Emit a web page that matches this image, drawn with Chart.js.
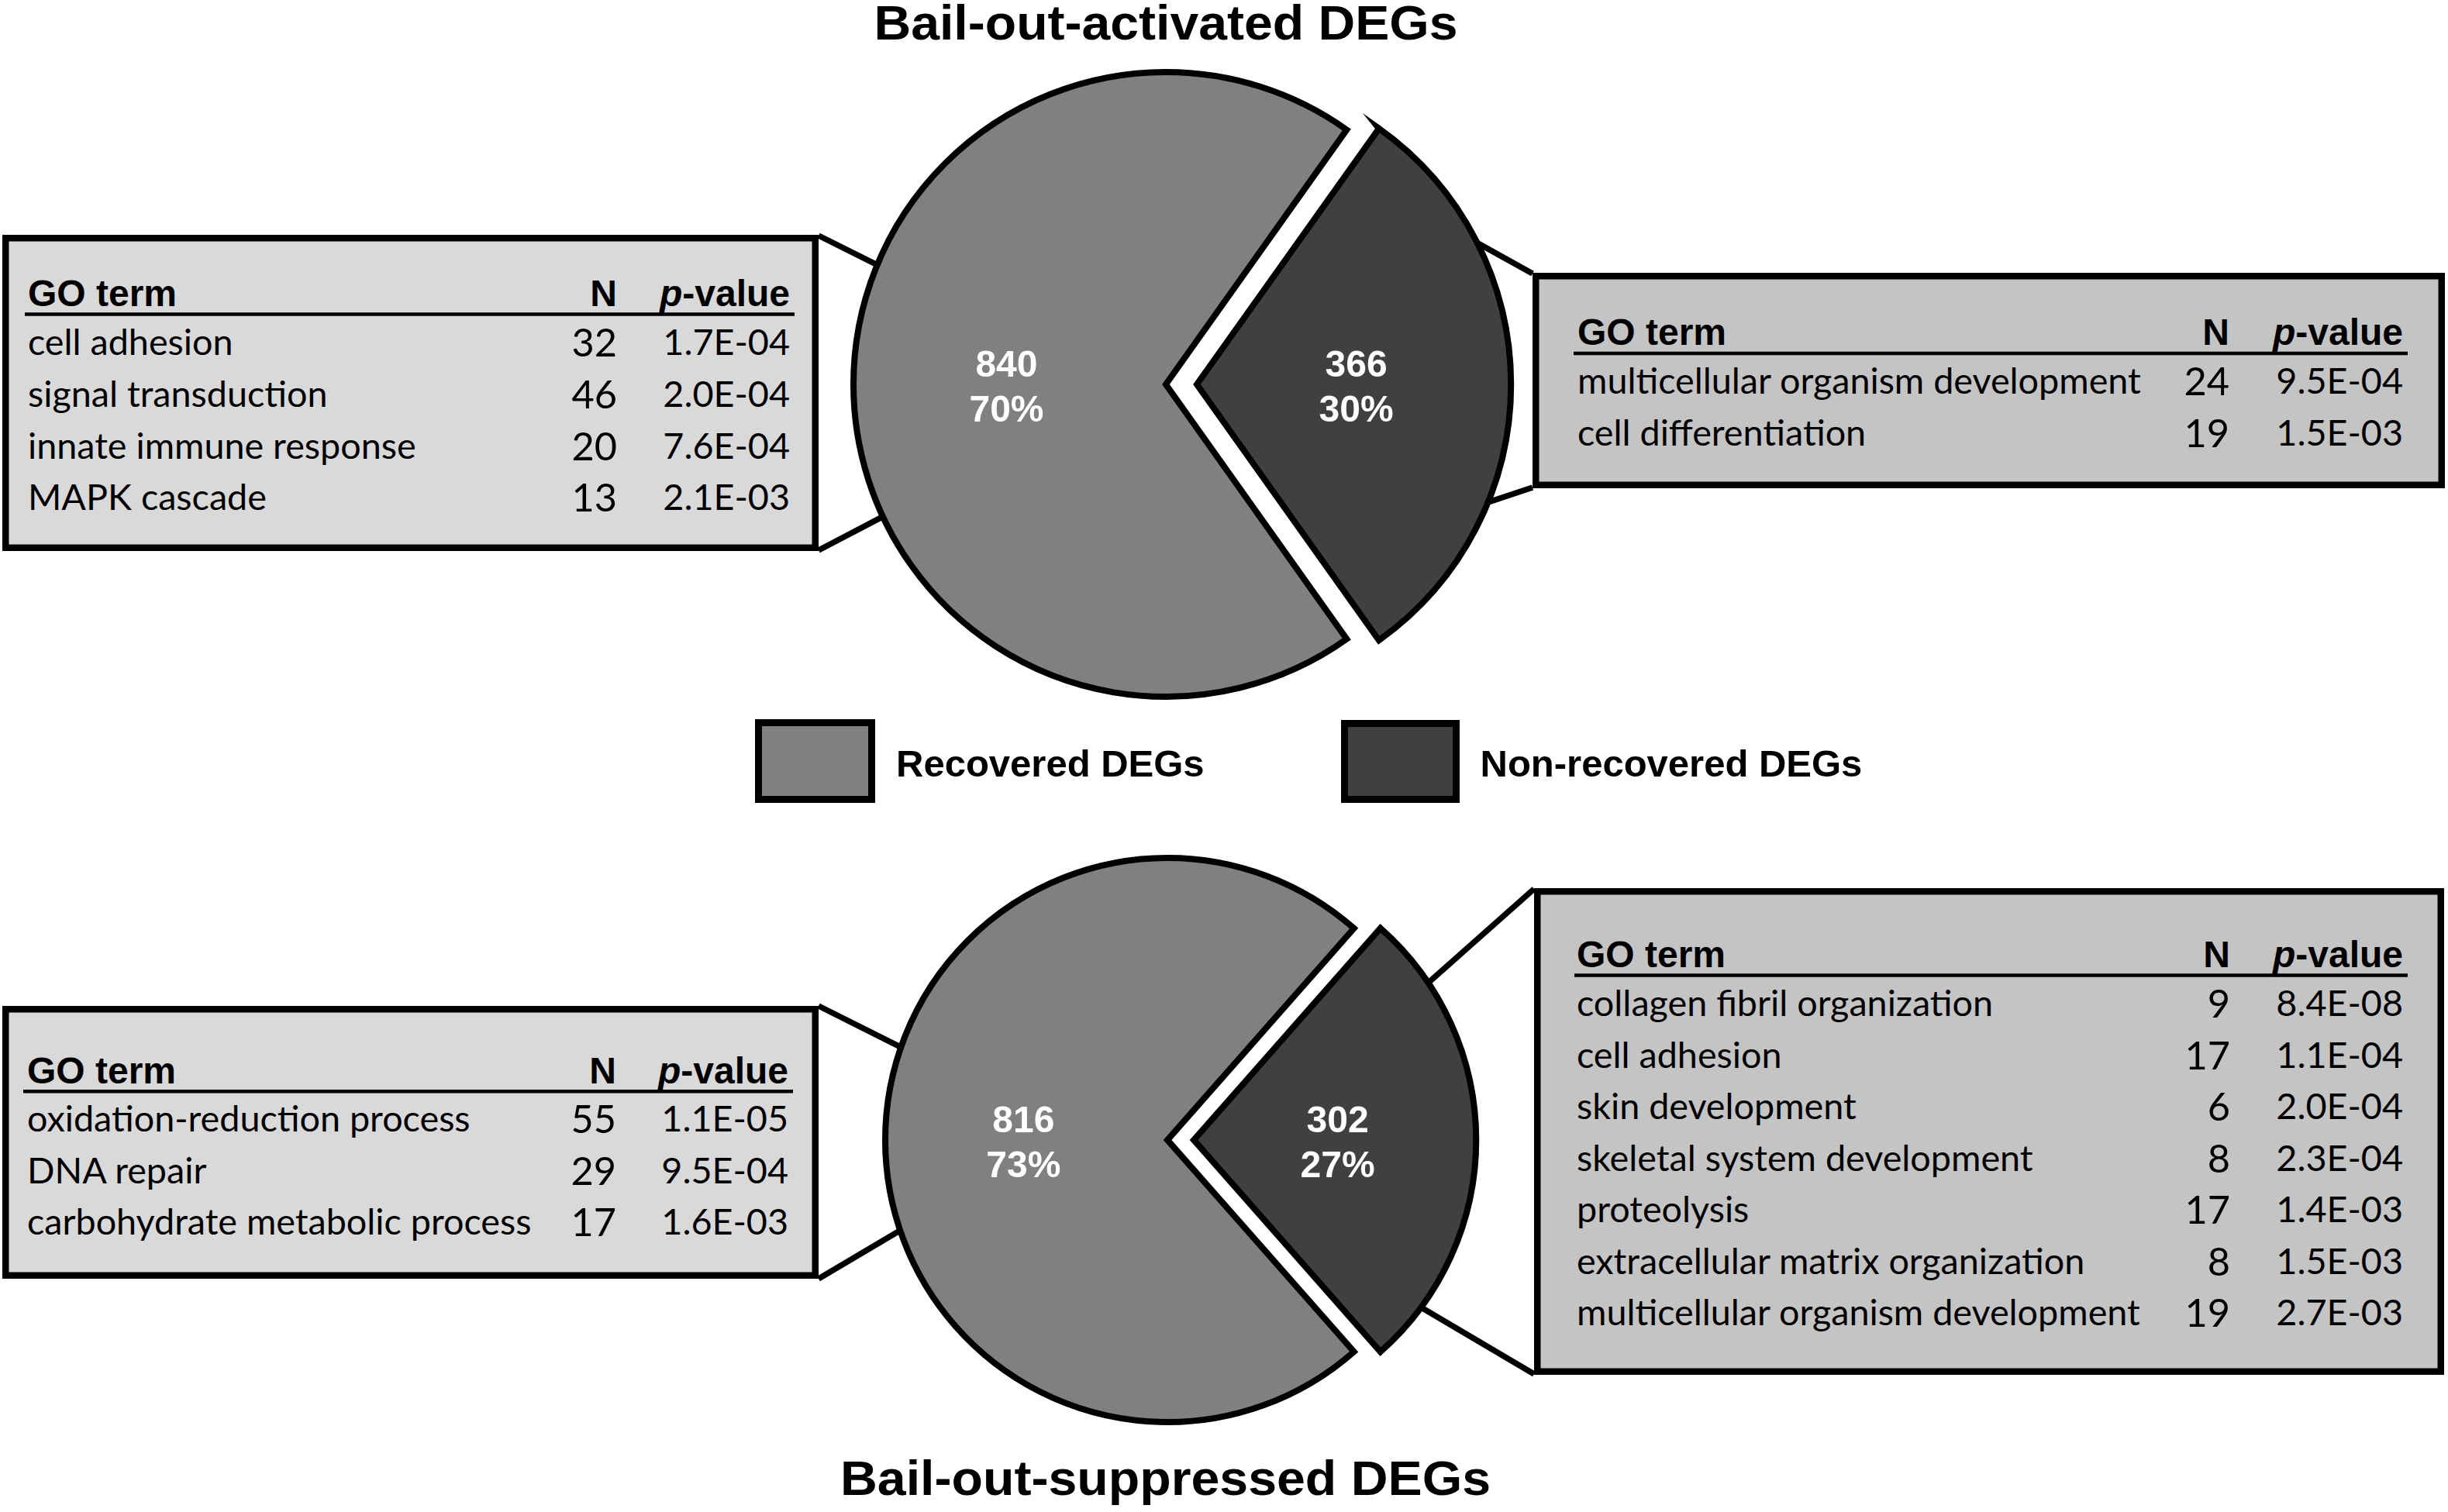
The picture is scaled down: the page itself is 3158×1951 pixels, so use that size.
<!DOCTYPE html>
<html><head><meta charset="utf-8">
<script src="https://cdn.jsdelivr.net/npm/chart.js@4.4.0/dist/chart.umd.min.js"></script>
<style>
html,body{margin:0;padding:0;background:#fff;width:3158px;height:1951px;overflow:hidden;}
#svg{position:absolute;left:0;top:0;}
canvas{position:absolute;}
</style></head><body>
<svg id="svg" width="3158" height="1951" xmlns="http://www.w3.org/2000/svg"></svg>
<canvas id="pieTop" width="920" height="920" style="left:1044px;top:36px"></canvas>
<canvas id="pieBot" width="840" height="840" style="left:1086px;top:1051px"></canvas>
<script>
// ---------- data ----------
const categories = ['Recovered DEGs', 'Non-recovered DEGs'];
const activatedCounts = [840, 366];
const suppressedCounts = [816, 302];
const titles = ['Bail-out-activated DEGs', 'Bail-out-suppressed DEGs'];
const headerTerm = 'GO term';
const headerN = 'N';

const actRecTerms = ['cell adhesion', 'signal transduction', 'innate immune response', 'MAPK cascade'];
const actRecN = [32, 46, 20, 13];
const actRecP = ['1.7E-04', '2.0E-04', '7.6E-04', '2.1E-03'];

const actNonTerms = ['multicellular organism development', 'cell differentiation'];
const actNonN = [24, 19];
const actNonP = ['9.5E-04', '1.5E-03'];

const supRecTerms = ['oxidation-reduction process', 'DNA repair', 'carbohydrate metabolic process'];
const supRecN = [55, 29, 17];
const supRecP = ['1.1E-05', '9.5E-04', '1.6E-03'];

const supNonTerms = ['collagen fibril organization', 'cell adhesion', 'skin development', 'skeletal system development', 'proteolysis', 'extracellular matrix organization', 'multicellular organism development'];
const supNonN = [9, 17, 6, 8, 17, 8, 19];
const supNonP = ['8.4E-08', '1.1E-04', '2.0E-04', '2.3E-04', '1.4E-03', '1.5E-03', '2.7E-03'];

// ---------- styles / layout ----------
const sliceColors = ['#808080', '#404040'];
const ARIAL = '"Liberation Sans", Arial, sans-serif';
const BODY = 'Lato, "Open Sans", sans-serif';

const mctx = document.createElement('canvas').getContext('2d');
function fitSize(font, text, target) { mctx.font = '100px ' + font; return 100 * target / mctx.measureText(text).width; }
const bodySize = fitSize(BODY, 'multicellular organism development', 728);

const NS = 'http://www.w3.org/2000/svg';
const svg = document.getElementById('svg');
function el(tag, attrs, text, parent) {
  const e = document.createElementNS(NS, tag);
  for (const k in attrs) e.setAttribute(k, attrs[k]);
  if (text !== undefined && text !== null) e.textContent = text;
  (parent || svg).appendChild(e);
  return e;
}

// connector lines (box corner -> pie edge), drawn under pies
const connectors = [
  [[1056, 304], [1133, 342.4]], [[1056, 710], [1133, 669.7]],
  [[1977, 353], [1905, 313]], [[1977, 629], [1920, 648]],
  [[1056, 1298], [1151, 1345.7]], [[1056, 1650], [1151, 1593.7]],
  [[1979, 1147], [1846, 1265]], [[1979, 1773], [1840, 1691]]
];
connectors.forEach(([a, b]) => {
  const dx = b[0] - a[0], dy = b[1] - a[1], L = Math.hypot(dx, dy);
  const ex = b[0] + dx / L * 25, ey = b[1] + dy / L * 25;
  el('line', {x1: a[0], y1: a[1], x2: ex, y2: ey, stroke: '#000', 'stroke-width': 7.5});
});

function drawTable(L, terms, ns, ps) {
  const bw = 8.5;
  const [x1, y1, x2, y2] = L.box;
  el('rect', {x: x1 + bw / 2, y: y1 + bw / 2, width: x2 - x1 - bw, height: y2 - y1 - bw, fill: L.fill, stroke: '#000', 'stroke-width': bw});
  el('text', {x: L.textX, y: L.headBase, 'font-family': ARIAL, 'font-weight': 'bold', 'font-size': 48, fill: '#000'}, headerTerm);
  el('text', {x: L.nX, y: L.headBase, 'font-family': ARIAL, 'font-weight': 'bold', 'font-size': 48, fill: '#000', 'text-anchor': 'end'}, headerN);
  const pv = el('text', {x: L.pX, y: L.headBase, 'font-family': ARIAL, 'font-weight': 'bold', 'font-size': 48, fill: '#000', 'text-anchor': 'end'});
  el('tspan', {'font-style': 'italic'}, 'p', pv);
  el('tspan', {}, '-value', pv);
  el('line', {x1: L.lineX[0], y1: L.lineY, x2: L.lineX[1], y2: L.lineY, stroke: '#000', 'stroke-width': 4.5});
  terms.forEach((t, i) => {
    const yb = L.rowBase + i * L.step;
    el('text', {x: L.textX, y: yb, 'font-family': BODY, 'font-size': bodySize, fill: '#000'}, t);
    el('text', {x: L.nX, y: yb + 2, 'font-family': BODY, 'font-size': bodySize * 1.08, fill: '#000', 'text-anchor': 'end'}, String(ns[i]));
    el('text', {x: L.pX, y: yb, 'font-family': BODY, 'font-size': bodySize, fill: '#000', 'text-anchor': 'end'}, ps[i]);
  });
}

drawTable({box: [3, 303, 1056, 711], fill: '#d9d9d9', textX: 36, nX: 796, pX: 1019, headBase: 395, lineY: 405.5, lineX: [32, 1025], rowBase: 458.3, step: 66.7}, actRecTerms, actRecN, actRecP);
drawTable({box: [1977, 352, 3154, 630], fill: '#c4c4c4', textX: 2035, nX: 2876, pX: 3100, headBase: 445, lineY: 456, lineX: [2030, 3106], rowBase: 508.3, step: 66.7}, actNonTerms, actNonN, actNonP);
drawTable({box: [3, 1298, 1056, 1650], fill: '#d9d9d9', textX: 35, nX: 795, pX: 1017, headBase: 1398, lineY: 1408.3, lineX: [30, 1023], rowBase: 1460, step: 66.7}, supRecTerms, supRecN, supRecP);
drawTable({box: [1979, 1146, 3153, 1774], fill: '#c4c4c4', textX: 2034, nX: 2877, pX: 3100, headBase: 1248, lineY: 1258.4, lineX: [2031, 3106], rowBase: 1311, step: 66.5}, supNonTerms, supNonN, supNonP);

// titles
el('text', {x: 1504, y: 51, 'font-family': ARIAL, 'font-weight': 'bold', 'font-size': 63, 'text-anchor': 'middle', textLength: 753, lengthAdjust: 'spacingAndGlyphs', fill: '#000'}, titles[0]);
el('text', {x: 1503.5, y: 1929, 'font-family': ARIAL, 'font-weight': 'bold', 'font-size': 63, 'text-anchor': 'middle', textLength: 839, lengthAdjust: 'spacingAndGlyphs', fill: '#000'}, titles[1]);

// legend
const legendBoxes = [[974, 928, 1129, 1036, 1156], [1730, 929, 1883, 1036, 1909.5]];
categories.forEach((c, i) => {
  const [x1, y1, x2, y2, tx] = legendBoxes[i];
  const bw = 9;
  el('rect', {x: x1 + bw / 2, y: y1 + bw / 2, width: x2 - x1 - bw, height: y2 - y1 - bw, fill: sliceColors[i], stroke: '#000', 'stroke-width': bw});
  el('text', {x: tx, y: 1002, 'font-family': ARIAL, 'font-weight': 'bold', 'font-size': 49, fill: '#000'}, c);
});

// ---------- pies ----------
const sliceLabels = {
  id: 'sliceLabels',
  afterDatasetsDraw(chart) {
    const ctx = chart.ctx;
    const meta = chart.getDatasetMeta(0);
    const data = chart.data.datasets[0].data;
    const total = data.reduce((a, b) => a + b, 0);
    ctx.save();
    ctx.fillStyle = '#fff';
    ctx.font = 'bold 48px ' + ARIAL;
    ctx.textAlign = 'center';
    ctx.textBaseline = 'alphabetic';
    meta.data.forEach((arc, i) => {
      const p = arc.getProps(['x', 'y', 'startAngle', 'endAngle', 'outerRadius'], true);
      const mid = (p.startAngle + p.endAngle) / 2;
      const shift = (arc.options.offset || 0) / 4;
      const d = shift + p.outerRadius * 0.51;
      const cx = p.x + Math.cos(mid) * d;
      const cy = p.y + Math.sin(mid) * d + 2;
      const cap = 0.358 * 48;
      ctx.fillText(String(data[i]), cx, cy - 29 + cap);
      ctx.fillText(Math.round(data[i] / total * 100) + '%', cx, cy + 29 + cap);
    });
    ctx.restore();
  }
};

function makePie(id, counts, radius, gapPx) {
  const total = counts[0] + counts[1];
  const rotation = 90 + 180 * counts[1] / total;
  return new Chart(document.getElementById(id), {
    type: 'pie',
    data: {
      labels: categories,
      datasets: [{
        data: counts,
        backgroundColor: sliceColors,
        borderColor: '#000',
        borderWidth: 8,
        borderJoinStyle: 'miter',
        offset: [0, gapPx * 4],
        hoverOffset: 0
      }]
    },
    options: {
      responsive: false,
      animation: false,
      rotation: rotation,
      radius: radius,
      events: [],
      layout: {padding: 0},
      plugins: {legend: {display: false}, tooltip: {enabled: false}, title: {display: false}}
    },
    plugins: [sliceLabels]
  });
}
makePie('pieTop', activatedCounts, 403, 40);
makePie('pieBot', suppressedCounts, 364, 34);
</script>
</body></html>
